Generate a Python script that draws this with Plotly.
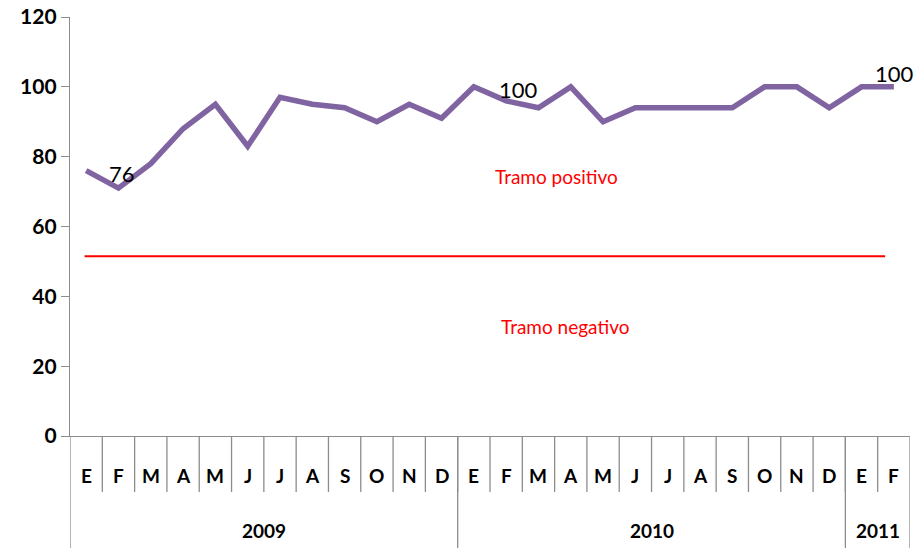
import plotly.graph_objects as go

months = ["E", "F", "M", "A", "M", "J", "J", "A", "S", "O", "N", "D",
          "E", "F", "M", "A", "M", "J", "J", "A", "S", "O", "N", "D",
          "E", "F"]
years = ["2009", "2010", "2011"]
year_counts = [12, 12, 2]
values = [76, 71, 78, 88, 95, 83, 97, 95, 94, 90, 95, 91,
          100, 96, 94, 100, 90, 94, 94, 94, 94, 100, 100, 94,
          100, 100]
threshold = 51.5
y_ticks = [0, 20, 40, 60, 80, 100, 120]

W, H = 918, 548
L, R, T, B = 70, 8, 17, 112
ph = H - T - B
pw = W - L - R
GRAY = "#8c8c8c"
FONT = "Lato, Open Sans, sans-serif"

x = list(range(len(values)))

fig = go.Figure()
fig.add_trace(go.Scatter(x=x, y=values, mode="lines",
                         line=dict(color="#8064a2", width=5.5),
                         hoverinfo="skip", showlegend=False))

# threshold line
fig.add_trace(go.Scatter(x=[-0.05, 24.73], y=[threshold, threshold], mode="lines",
                         line=dict(color="#ff0000", width=2),
                         hoverinfo="skip", showlegend=False))

def py(pix):
    return (T + ph - pix) / ph

def px(pix):
    return (pix - L) / pw

annotations = []
# data labels
annotations.append(dict(x=0, y=values[0], xref="x", yref="y", text="76",
                        showarrow=False, xanchor="left", yanchor="middle",
                        xshift=21, yshift=-3, font=dict(size=22, color="black", family=FONT)))
annotations.append(dict(x=12, y=values[12], xref="x", yref="y", text="100",
                        showarrow=False, xanchor="left", yanchor="middle",
                        xshift=23, yshift=-3, font=dict(size=22, color="black", family=FONT)))
annotations.append(dict(x=25, y=values[25], xref="x", yref="y", text="100",
                        showarrow=False, xanchor="center", yanchor="bottom",
                        xshift=1, yshift=-2, font=dict(size=22, color="black", family=FONT)))
# region labels
annotations.append(dict(x=px(556), y=py(176), xref="paper", yref="paper", text="Tramo positivo",
                        xanchor="center", yanchor="middle",
                        showarrow=False, font=dict(size=19, color="#ff0000", family=FONT)))
annotations.append(dict(x=px(565), y=py(326), xref="paper", yref="paper", text="Tramo negativo",
                        xanchor="center", yanchor="middle",
                        showarrow=False, font=dict(size=19, color="#ff0000", family=FONT)))

shapes = []
# month labels and month dividers
for i, m in enumerate(months):
    annotations.append(dict(x=i, y=py(475), xref="x", yref="paper", text="<b>%s</b>" % m,
                            xanchor="center", yanchor="middle",
                            showarrow=False, font=dict(size=19, color="black", family=FONT)))
for i in range(1, len(months)):
    shapes.append(dict(type="line", xref="x", yref="paper", x0=i - 0.5, x1=i - 0.5,
                       y0=0, y1=py(492), line=dict(color=GRAY, width=1.3)))
# year labels and group dividers
start = 0
bounds = [-0.5]
for yname, c in zip(years, year_counts):
    annotations.append(dict(x=start + (c - 1) / 2, y=py(530), xref="x", yref="paper",
                            text="<b>%s</b>" % yname, showarrow=False,
                            xanchor="center", yanchor="middle",
                            font=dict(size=19, color="black", family=FONT)))
    start += c
    bounds.append(start - 0.5)
for b in bounds:
    shapes.append(dict(type="line", xref="x", yref="paper", x0=b, x1=b,
                       y0=0, y1=py(H), line=dict(color=GRAY, width=1.3)))

fig.update_layout(
    width=W, height=H,
    margin=dict(l=L, r=R, t=T, b=B, autoexpand=False),
    paper_bgcolor="white", plot_bgcolor="white",
    annotations=annotations, shapes=shapes,
    xaxis=dict(range=[-0.5, len(values) - 0.5], showticklabels=False, showgrid=False,
               zeroline=False, showline=True, linecolor=GRAY, linewidth=1.3, ticks="",
               automargin=False),
    yaxis=dict(range=[0, 120], tickvals=y_ticks,
               ticktext=["<b>%d</b>" % v for v in y_ticks],
               showgrid=False, zeroline=False, showline=True, linecolor=GRAY, linewidth=1.3,
               ticks="outside", ticklen=8, tickcolor=GRAY, tickwidth=1.3, automargin=False,
               tickfont=dict(size=21, color="black", family=FONT)),
)

fig.write_html("out.html", post_script="document.body.style.margin='0';",
               config={"displayModeBar": False})
